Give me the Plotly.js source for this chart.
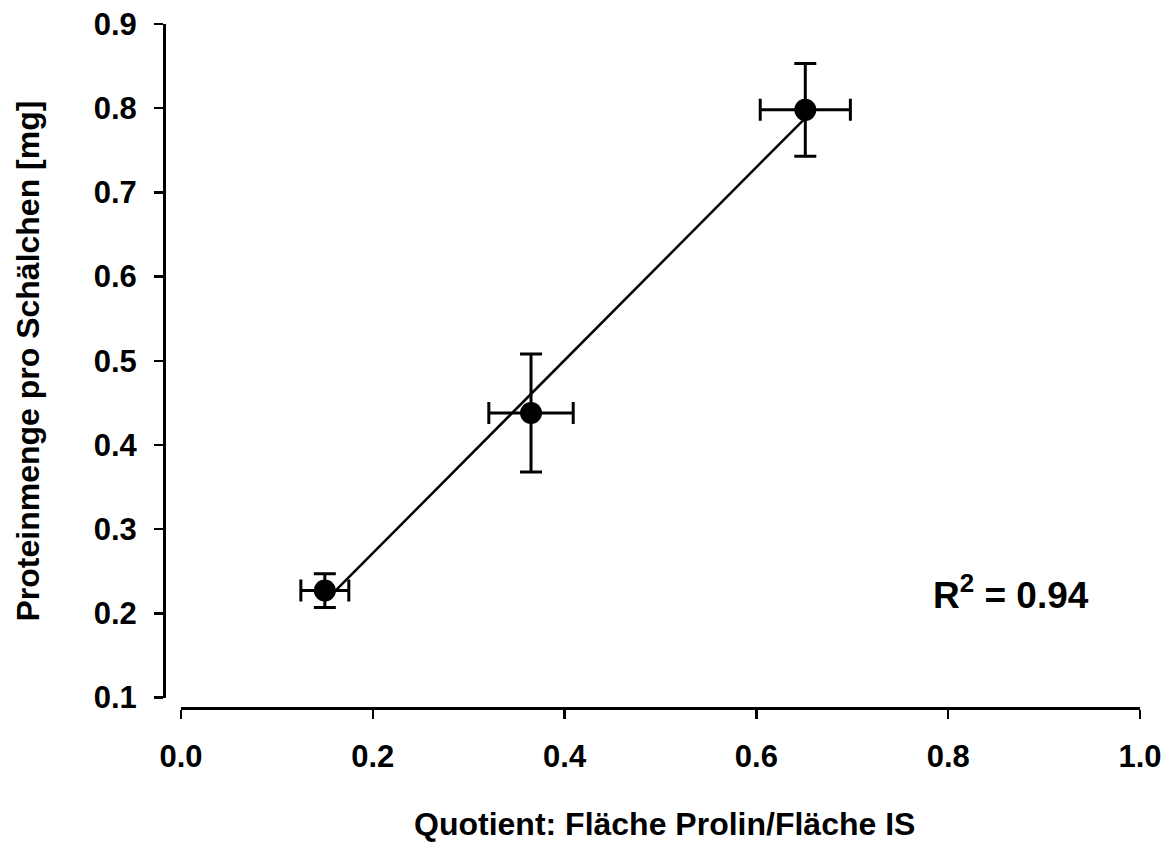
<!DOCTYPE html>
<html>
<head>
<meta charset="utf-8">
<script src="https://cdn.plot.ly/plotly-3.0.1.min.js"></script>
<style>
  html, body { margin: 0; padding: 0; background: #fff; }
  #chart { width: 1168px; height: 845px; }
</style>
</head>
<body>
<div id="chart"></div>
<script>
// Quotient (Prolin / IS peak area) against protein amount per dish
const quotient      = [0.150, 0.365, 0.651];
const quotientErr   = [0.025, 0.044, 0.047];
const protein       = [0.227, 0.438, 0.798];
const proteinErr    = [0.020, 0.070, 0.055];
const rSquaredLabel = "0.94";

const xTicks = [0.0, 0.2, 0.4, 0.6, 0.8, 1.0];
const yTicks = [0.1, 0.2, 0.3, 0.4, 0.5, 0.6, 0.7, 0.8, 0.9];

// least-squares regression line through the mean points
function linearFit(xs, ys) {
  const n = xs.length;
  const mx = xs.reduce((a, b) => a + b, 0) / n;
  const my = ys.reduce((a, b) => a + b, 0) / n;
  let sxy = 0, sxx = 0;
  for (let i = 0; i < n; i++) {
    sxy += (xs[i] - mx) * (ys[i] - my);
    sxx += (xs[i] - mx) * (xs[i] - mx);
  }
  const slope = sxy / sxx;
  return { slope, intercept: my - slope * mx };
}
const fit = linearFit(quotient, protein);
const fitX = [Math.min(...quotient), Math.max(...quotient)];
const fitY = fitX.map(x => fit.intercept + fit.slope * x);

const FONT = "Liberation Sans, Arial, Helvetica, sans-serif";

const traces = [
  {
    x: fitX, y: fitY, mode: "lines", type: "scatter",
    line: { color: "#000", width: 2.5 },
    hoverinfo: "skip", showlegend: false
  },
  {
    x: quotient, y: protein, mode: "markers", type: "scatter",
    marker: { color: "#000", size: 22 },
    error_x: { type: "data", array: quotientErr, visible: true, color: "#000", thickness: 3, width: 11 },
    error_y: { type: "data", array: proteinErr, visible: true, color: "#000", thickness: 3, width: 11 },
    showlegend: false
  }
];

const axisFont = { family: FONT, size: 31, color: "#000", weight: "bold" };

const layout = {
  width: 1168, height: 845,
  margin: { l: 164, r: 28, t: 24, b: 137 },
  paper_bgcolor: "#fff", plot_bgcolor: "#fff",
  showlegend: false,
  xaxis: {
    range: [0, 1], domain: [0.0174, 1],
    anchor: "free", position: 0,
    tickvals: xTicks, ticktext: xTicks.map(v => v.toFixed(1)),
    ticks: "outside", ticklen: 9, tickwidth: 2.5, tickcolor: "#000",
    showline: true, linecolor: "#000", linewidth: 2.5,
    showgrid: false, zeroline: false,
    tickfont: axisFont, ticklabelstandoff: 11
  },
  yaxis: {
    range: [0.1, 0.9], domain: [0.01535, 1],
    anchor: "free", position: 0,
    tickvals: yTicks, ticktext: yTicks.map(v => v.toFixed(1)),
    ticks: "outside", ticklen: 9, tickwidth: 2.5, tickcolor: "#000",
    showline: true, linecolor: "#000", linewidth: 2.5,
    showgrid: false, zeroline: false,
    tickfont: axisFont, ticklabelstandoff: 11
  },
  annotations: [
    {
      text: "Quotient: Fläche Prolin/Fläche IS",
      xref: "paper", yref: "paper", x: 0.513, y: -0.199,
      xanchor: "center", yanchor: "bottom", showarrow: false,
      font: { family: FONT, size: 32, color: "#000", weight: "bold" }
    },
    {
      text: "Proteinmenge pro Schälchen [mg]",
      xref: "paper", yref: "paper", x: -0.139, y: 0.507,
      xanchor: "center", yanchor: "middle", textangle: -90, showarrow: false,
      font: { family: FONT, size: 32, color: "#000", weight: "bold" }
    },
    {
      text: "R<sup>2</sup> = " + rSquaredLabel,
      xref: "x", yref: "y", x: 0.865, y: 0.225,
      xanchor: "center", yanchor: "middle", showarrow: false,
      font: { family: FONT, size: 37, color: "#000", weight: "bold" }
    }
  ]
};

Plotly.newPlot("chart", traces, layout, { displayModeBar: false, staticPlot: true });
</script>
</body>
</html>
